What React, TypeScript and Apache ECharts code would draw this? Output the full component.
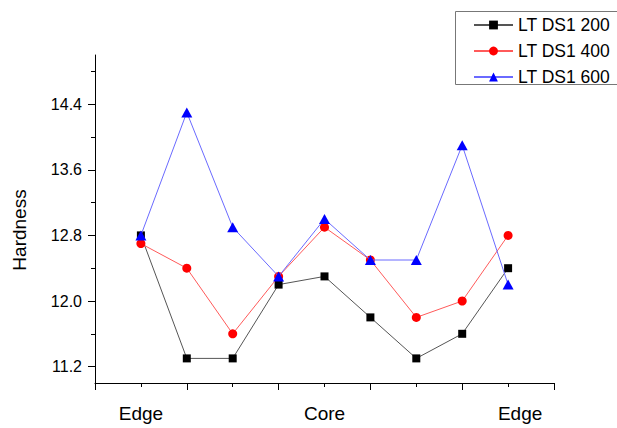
import React, { useEffect, useRef } from "react";
import * as echarts from "echarts";

const positions = [1, 2, 3, 4, 5, 6, 7, 8, 9];
const ds200 = [12.8, 11.3, 11.3, 12.2, 12.3, 11.8, 11.3, 11.6, 12.4];
const ds400 = [12.7, 12.4, 11.6, 12.3, 12.9, 12.5, 11.8, 12.0, 12.8];
const ds600 = [12.8, 14.3, 12.9, 12.3, 13.0, 12.5, 12.5, 13.9, 12.2];
const seriesNames = ["LT DS1 200", "LT DS1 400", "LT DS1 600"];
const yMajorTicks = [11.2, 12.0, 12.8, 13.6, 14.4];
const yMinorTicks = [11.6, 12.4, 13.2, 14.0, 14.8];
const xMajorTicks = [0, 2, 4, 6, 8, 10];
const xMinorTicks = [1, 3, 5, 7, 9];
const xLabelValues = [1, 5, 9];
const xLabelTexts = ["Edge", "Core", "Edge"];

const FONT = "'Liberation Sans', Arial, sans-serif";

export default function App() {
  const ref = useRef<HTMLDivElement>(null);
  useEffect(() => {
    if (!ref.current) return;
    const chart = echarts.init(ref.current, null, { renderer: "svg" });
    const toPts = (vals: number[]) => vals.map((v, i) => [positions[i], v]);
    const axisLine = { show: true, lineStyle: { color: "#000", width: 1 } };
    chart.setOption({
      animation: false,
      backgroundColor: "#fff",
      textStyle: { fontFamily: FONT },
      grid: { left: 95, right: 63, top: 55, bottom: 45, containLabel: false },
      graphic: [
        {
          type: "rect",
          left: 453,
          top: 9,
          shape: { width: 200, height: 73 },
          style: { fill: "none", stroke: "#777", lineWidth: 1 },
          silent: true,
          z: 10,
        },
      ],
      legend: {
        left: 453,
        top: 9,
        orient: "vertical",
        itemWidth: 39,
        itemHeight: 11,
        itemGap: 8,
        padding: [7, 4, 7, 20],
        borderWidth: 0,
        textStyle: { fontSize: 17.5, color: "#000", fontFamily: FONT },
        data: seriesNames,
      },
      xAxis: [
        {
          type: "value",
          min: 0,
          max: 10,
          interval: 1,
          position: "bottom",
          axisLine,
          splitLine: { show: false },
          axisTick: { show: true, length: 7, customValues: xMajorTicks, lineStyle: { color: "#000" } },
          axisLabel: {
            show: true,
            customValues: xLabelValues,
            margin: 21,
            fontSize: 19,
            color: "#000",
            fontFamily: FONT,
            formatter: (v: number) => {
              const i = xLabelValues.indexOf(v);
              if (i < 0) return "";
              return i === xLabelValues.length - 1 ? "{r|" + xLabelTexts[i] + "}" : xLabelTexts[i];
            },
            rich: { r: { fontSize: 19, color: "#000", fontFamily: FONT, padding: [0, 0, 0, 24] } },
          },
        },
        {
          type: "value",
          min: 0,
          max: 10,
          interval: 1,
          position: "bottom",
          offset: 0,
          axisLine: { show: false },
          splitLine: { show: false },
          axisTick: { show: true, length: 4, customValues: xMinorTicks, lineStyle: { color: "#000" } },
          axisLabel: { show: false },
        },
      ],
      yAxis: [
        {
          type: "value",
          min: 11,
          max: 15,
          position: "left",
          name: "Hardness",
          nameLocation: "middle",
          nameGap: 66,
          nameRotate: 90,
          nameTextStyle: { fontSize: 19, color: "#000", fontFamily: FONT, padding: [0, 22, 0, 0] },
          axisLine,
          splitLine: { show: false },
          axisTick: { show: true, length: 7, customValues: yMajorTicks, lineStyle: { color: "#000" } },
          axisLabel: {
            show: true,
            customValues: yMajorTicks,
            margin: 13,
            fontSize: 16,
            color: "#000",
            fontFamily: FONT,
            formatter: (v: number) => v.toFixed(1),
          },
        },
        {
          type: "value",
          min: 11,
          max: 15,
          position: "left",
          offset: 0,
          axisLine: { show: false },
          splitLine: { show: false },
          axisTick: { show: true, length: 4, customValues: yMinorTicks, lineStyle: { color: "#000" } },
          axisLabel: { show: false },
        },
      ],
      series: [
        {
          name: seriesNames[0],
          type: "line",
          data: toPts(ds200),
          symbol: "rect",
          symbolSize: 8,
          itemStyle: { color: "#000" },
          lineStyle: { color: "#555", width: 1 },
          z: 3,
        },
        {
          name: seriesNames[1],
          type: "line",
          data: toPts(ds400),
          symbol: "circle",
          symbolSize: 9,
          itemStyle: { color: "#ff0000" },
          lineStyle: { color: "#ff5a5a", width: 1 },
          z: 4,
        },
        {
          name: seriesNames[2],
          type: "line",
          data: toPts(ds600),
          symbol: "triangle",
          symbolSize: [11, 10],
          itemStyle: { color: "#0000ff" },
          lineStyle: { color: "#6a6aff", width: 1 },
          z: 5,
        },
      ],
    });
    return () => chart.dispose();
  }, []);
  return (
    <div
      ref={ref}
      style={{ position: "fixed", left: 0, top: 0, width: 617, height: 428, background: "#fff" }}
    />
  );
}
